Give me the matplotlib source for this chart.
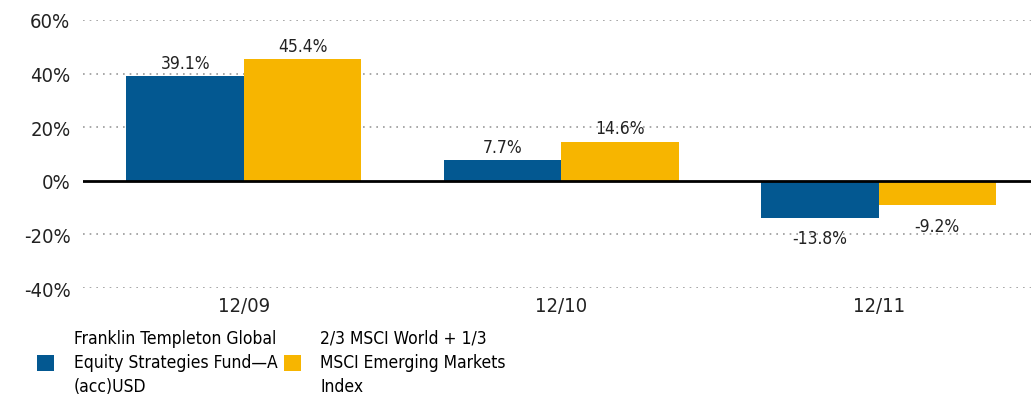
import numpy as np
import matplotlib.pyplot as plt

plt.rcParams['font.family'] = ['DejaVu Sans']
plt.rcParams['font.stretch'] = 'condensed'

periods = ['12/09', '12/10', '12/11']
fund = [39.1, 7.7, -13.8]
index = [45.4, 14.6, -9.2]
series_names = ['Franklin Templeton Global\nEquity Strategies Fund\u2014A\n(acc)USD',
                '2/3 MSCI World + 1/3\nMSCI Emerging Markets\nIndex']
colors = ['#035891', '#F7B500']

fig = plt.figure(figsize=(10.31, 4.02), dpi=100)
ax = fig.add_axes([0.0805, 0.281, 0.9195, 0.667])

x = np.arange(len(periods))
w = 0.37
b1 = ax.bar(x - w / 2, fund, w, color=colors[0], label=series_names[0], zorder=2)
b2 = ax.bar(x + w / 2, index, w, color=colors[1], label=series_names[1], zorder=2)

for bars, vals in [(b1, fund), (b2, index)]:
    for r, v in zip(bars, vals):
        cx = r.get_x() + r.get_width() / 2
        if v >= 0:
            ax.annotate(f'{v:.1f}%', (cx, v), xytext=(0, 3), textcoords='offset points',
                        ha='center', va='bottom', fontsize=12.5, color='#222222')
        else:
            ax.annotate(f'{v:.1f}%', (cx, v), xytext=(0, -8), textcoords='offset points',
                        ha='center', va='top', fontsize=12.5, color='#222222')

ax.set_xlim(-0.507, 2.48)
ax.set_ylim(-40, 60)
yt = [-40, -20, 0, 20, 40, 60]
ax.set_yticks(yt)
ax.set_yticklabels([f'{t}%' for t in yt], fontsize=14.5, color='#222222')
ax.set_xticks(x)
ax.set_xticklabels(periods, fontsize=14.5, color='#222222')
ax.tick_params(length=0, pad=9)
ax.tick_params(axis='x', pad=6)

for t in yt:
    if t != 0:
        ax.axhline(t, color='#999999', lw=1.2, ls=(0, (1, 3)), zorder=1)
ax.axhline(0, color='black', lw=2, zorder=3)

for s in ax.spines.values():
    s.set_visible(False)

handles = [b1, b2]
anchors = [0.036, 0.2755]
for h, name, ax0 in zip(handles, series_names, anchors):
    leg = fig.legend([h], [name], loc='upper left', bbox_to_anchor=(ax0, 0.18), frameon=False,
                     fontsize=12.5, handlelength=1.0, handleheight=1.0, handletextpad=1.1,
                     borderaxespad=0, borderpad=0)
    for txt in leg.get_texts():
        txt.set_linespacing(1.45)

fig.savefig('out.png', dpi=100)
